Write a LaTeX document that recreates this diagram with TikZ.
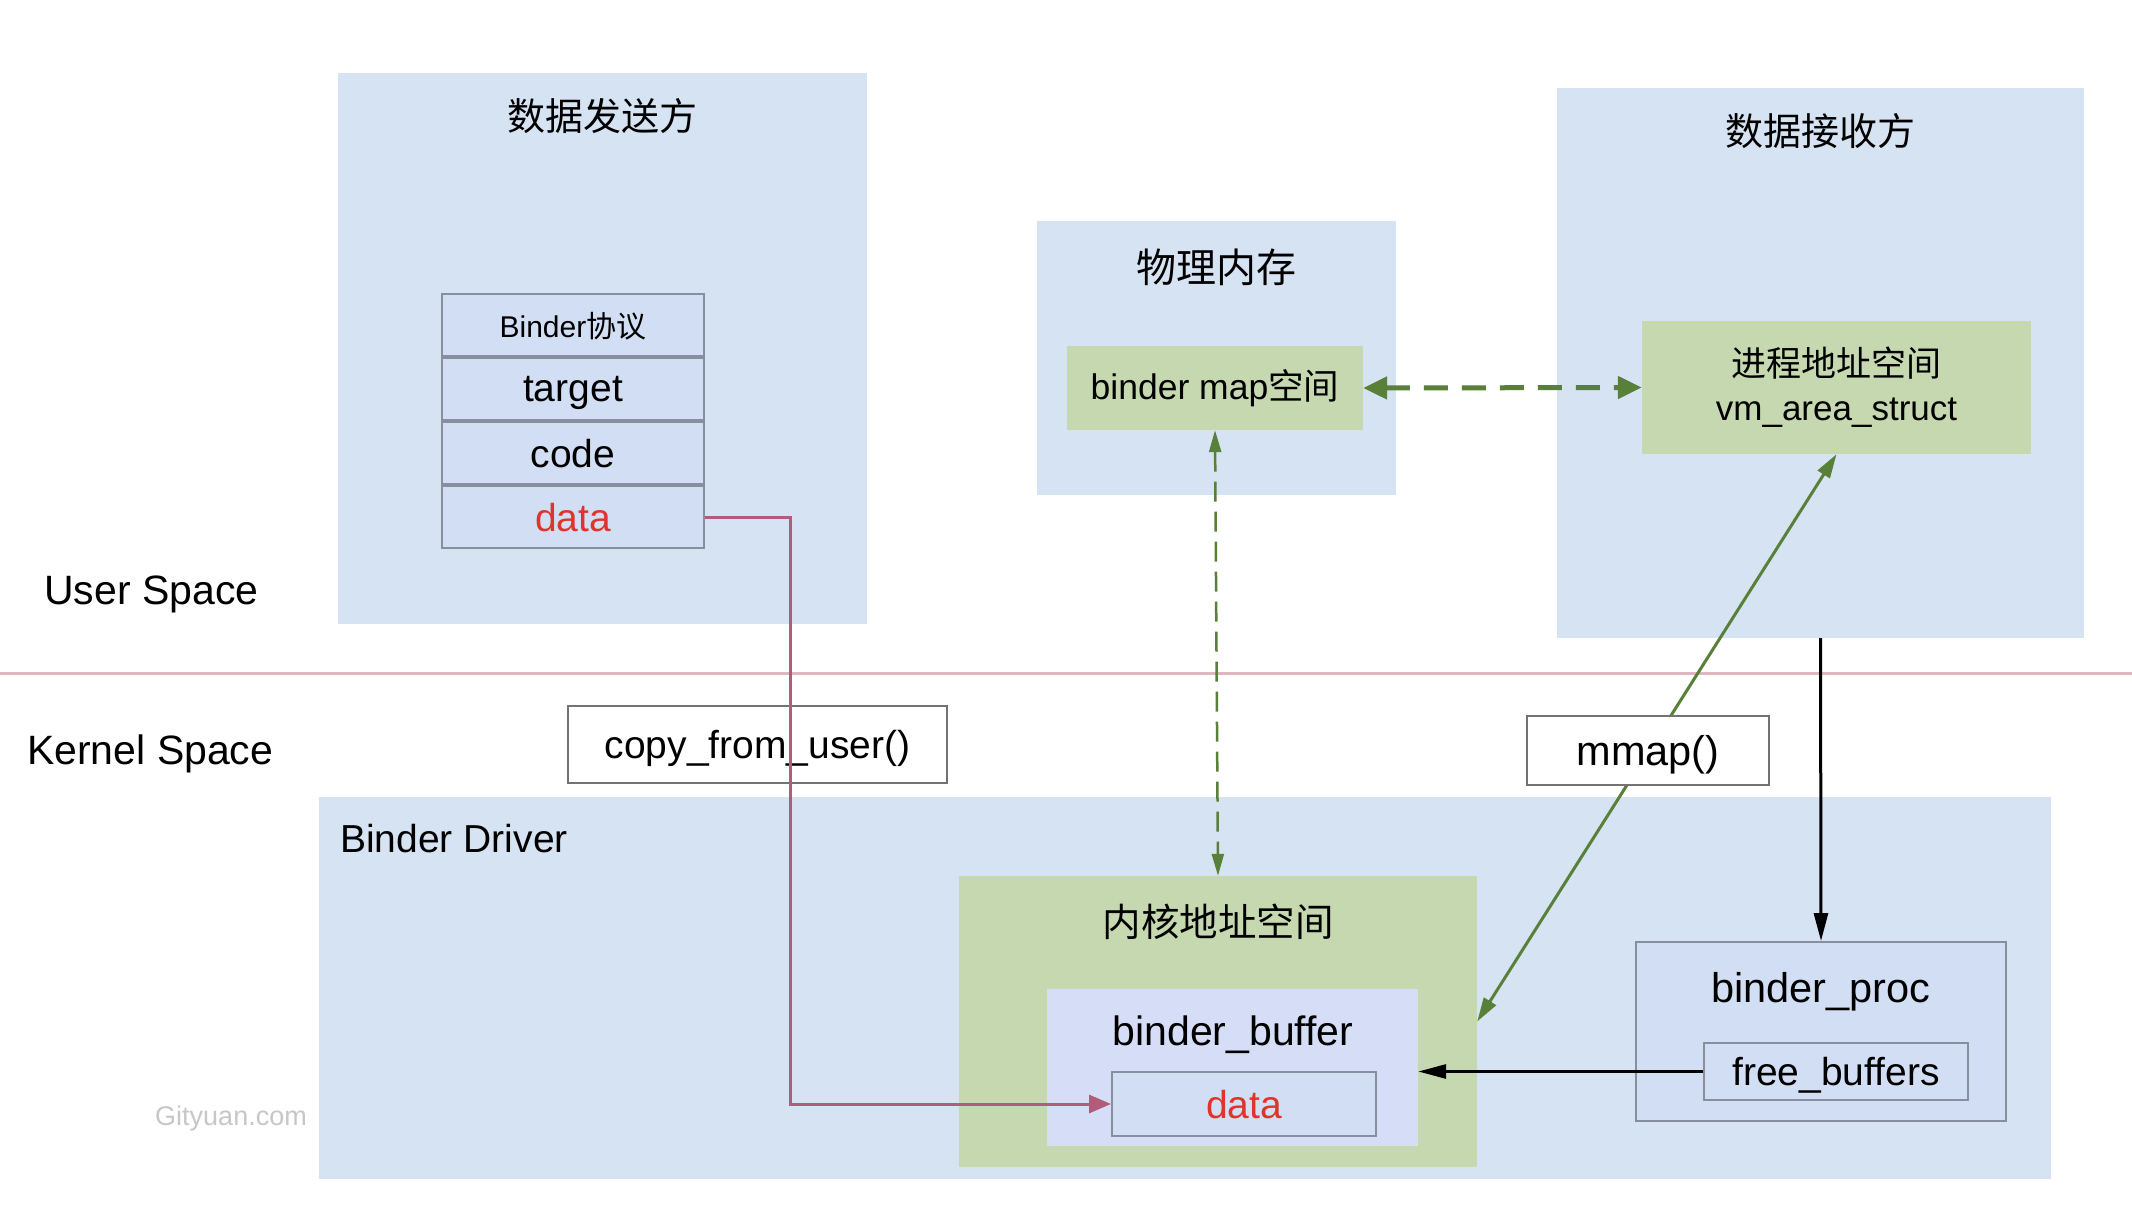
\documentclass[tikz,border=0pt]{standalone}
\usepackage{fontspec}
\setmainfont{Liberation Sans}
\newfontfamily\cjk{Noto Sans CJK SC}
\usetikzlibrary{arrows.meta,fit,positioning}

\definecolor{areablue}{RGB}{214,227,242}
\definecolor{areagreen}{RGB}{198,216,176}
\definecolor{cellblue}{RGB}{210,222,244}
\definecolor{bufblue}{RGB}{214,222,247}
\definecolor{cellline}{RGB}{135,143,158}
\definecolor{datared}{RGB}{222,52,44}
\definecolor{copyline}{RGB}{176,92,122}
\definecolor{mapgreen}{RGB}{88,128,56}
\definecolor{splitline}{RGB}{222,184,192}

\newcommand{\fsz}[1]{\fontsize{#1}{1.2\dimexpr#1pt\relax}\selectfont}

\begin{document}
\begin{tikzpicture}[x=1pt,y=-1pt]
\tikzstyle{every node}=[font=\fsz{39}, inner sep=0pt, text depth=0pt]
\tikzstyle{area}=[fill=areablue]
\tikzstyle{green area}=[fill=areagreen]
\tikzstyle{cell}=[draw=cellline, line width=2pt, fill=cellblue]
\tikzstyle{call box}=[draw=black!55, line width=2pt, fill=white]
\tikzstyle{title}=[font=\cjk\fsz{38}, text depth={}]

\fill[white] (0,0) rectangle (2132,1212);
\useasboundingbox (0,0) rectangle (2132,1212);

% user space
\node[area, fit={(338,73) (867,624)}] (sender) {};
\node[title] (sender_title) at (602,116) {数据发送方};
\node[area, fit={(1037,221) (1396,495)}] (phys_mem) {};
\node[title, font=\cjk\fsz{40}] (phys_title) at (1216,267) {物理内存};
\node[area, fit={(1557,88) (2084,638)}] (receiver) {};
\node[title] (receiver_title) at (1820,131) {数据接收方};

\node[green area, minimum width=296pt, minimum height=84pt, font=\fsz{35.5}, text depth={}]
  (map_space) at (1215,388) {binder map{\cjk 空间}};
\node[green area, minimum width=389pt, minimum height=133pt, align=center, text depth={},
  font=\fontsize{35}{44}\selectfont] (proc_space) at (1836.5,387.5)
  {{\cjk 进程地址空间}\\vm\_area\_struct};

\node[cell, minimum width=262pt, minimum height=62pt, font=\fsz{30}]
  (proto) at (573,325) {Binder{\cjk 协议}};
\node[cell, minimum width=262pt, minimum height=62pt] (target) [below=0pt of proto] {target};
\node[cell, minimum width=262pt, minimum height=62pt] (code) [below=0pt of target] {code};
\node[cell, minimum width=262pt, minimum height=62pt, text=datared] (data) [below=0pt of code] {data};

\node[anchor=west, font=\fsz{41}] (user_label) at (44,590) {User Space};

% split
\draw[splitline, line width=3pt] (0,673) -- (2132,673);

% kernel space
\node[anchor=west, font=\fsz{41}] (kernel_label) at (27,750) {Kernel Space};
\node[area, fit={(319,797) (2051,1179)}] (driver) {};
\node[anchor=west] (driver_label) at (340,838) {Binder Driver};
\node[text=black!22, font=\fsz{27}] (watermark) at (231,1116) {Gityuan.com};

\node[green area, fit={(959,876) (1477,1167)}] (kernel_space) {};
\node[title, font=\cjk\fsz{38.5}] (kernel_title) at (1218,922) {内核地址空间};
\node[fill=bufblue, fit={(1047,989) (1418,1146)}] (binder_buffer) {};
\node[font=\fsz{41}] (buffer_label) at (1233,1031) {binder\_buffer};
\node[cell, minimum width=264pt, minimum height=64pt, text=datared] (buf_data) at (1244,1104) {data};

\node[cell, minimum width=370pt, minimum height=179pt] (binder_proc) at (1821,1031.5) {};
\node[font=\fsz{41.5}] (proc_label) at (1821,987) {binder\_proc};
\node[cell, minimum width=264pt, minimum height=57pt] (free_buffers) at (1836,1071.5) {free\_buffers};

\node[call box, minimum width=379pt, minimum height=77pt] (copy_box) at (757.5,744) {copy\_from\_user()};

% connectors
\coordinate (copy_turn) at (790.5,1104);
\draw[copyline, line width=3pt, -{Triangle[length=22pt,width=18pt]}]
  (data.east) -| (copy_turn) -- (buf_data.west);

\path[mapgreen]
  (map_space.east) edge [line width=5pt, dash pattern=on 24pt off 14pt,
    {Triangle[length=24pt,width=22pt]}-{Triangle[length=24pt,width=22pt]}] (proc_space.west)
  (map_space.south) edge [line width=2.5pt, dash pattern=on 20pt off 10pt,
    {Triangle[length=22pt,width=12pt]}-{Triangle[length=22pt,width=12pt]}] (kernel_space.north)
  (proc_space.south) edge [line width=3pt,
    {Triangle[length=24pt,width=14pt]}-{Triangle[length=24pt,width=14pt]}] (kernel_space.east)
;

\node[call box, minimum width=242pt, minimum height=69pt, font=\fsz{41.5}] (mmap_box) at (1648,750.5) {mmap()};

\path[line width=3pt, -{Triangle[length=28pt,width=14pt]}]
  (receiver.south) edge (binder_proc.north)
  (free_buffers.west) edge (free_buffers.west -| binder_buffer.east)
;
\end{tikzpicture}
\end{document}
